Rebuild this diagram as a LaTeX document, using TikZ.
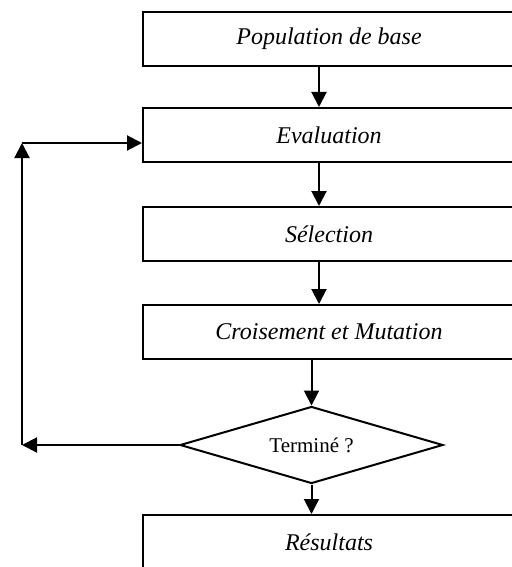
\documentclass[tikz,border=0pt]{standalone}
\usepackage{fontspec}
\setmainfont{Liberation Serif}
\usepackage{tikz}
\usetikzlibrary{arrows.meta,shapes.geometric}

\begin{document}
\begin{tikzpicture}[x=0.5pt,y=-0.5pt,line width=1pt,
    etape/.style={draw,rectangle,minimum width=186pt,minimum height=27pt,inner sep=0pt,
        font=\fontsize{12}{14}\selectfont\itshape},
    test/.style={draw,diamond,aspect=3.42,minimum width=131.5pt,minimum height=38.5pt,inner sep=0pt,
        font=\fontsize{10.5}{12}\selectfont},
    fl/.style={-{Triangle[length=7.5pt,width=7.5pt]}}]
        \useasboundingbox (0,0) rectangle (512,567);
        \coordinate(X) at (319,0);
        \node[etape](pop) at (329,39) {Population de base};
        \node[etape](eval) at (329,135) {Evaluation};
        \node[etape](sel) at (329,234) {Sélection};
        \node[etape](crois) at (329,332) {Croisement et Mutation};
        \node[test](fin) at (311.5,445) {Terminé ?};
        \node[etape](res) at (329,542) {Résultats};
        \coordinate(B) at (22,445);
        \coordinate(H) at (22,143);
        \draw[fl] (pop.south -| X)--(eval.north -| X);
        \draw[fl] (eval.south -| X)--(sel.north -| X);
        \draw[fl] (sel.south -| X)--(crois.north -| X);
        \draw[fl] (crois.south -| fin.north)--(fin.north);
        \draw[fl] (fin.south)--(res.north -| fin.south);
        \draw[fl] (fin.west)--(B);
        \draw[fl] (B)--(H);
        \draw[fl] (H)--(H -| eval.west);
    \end{tikzpicture}
\end{document}
